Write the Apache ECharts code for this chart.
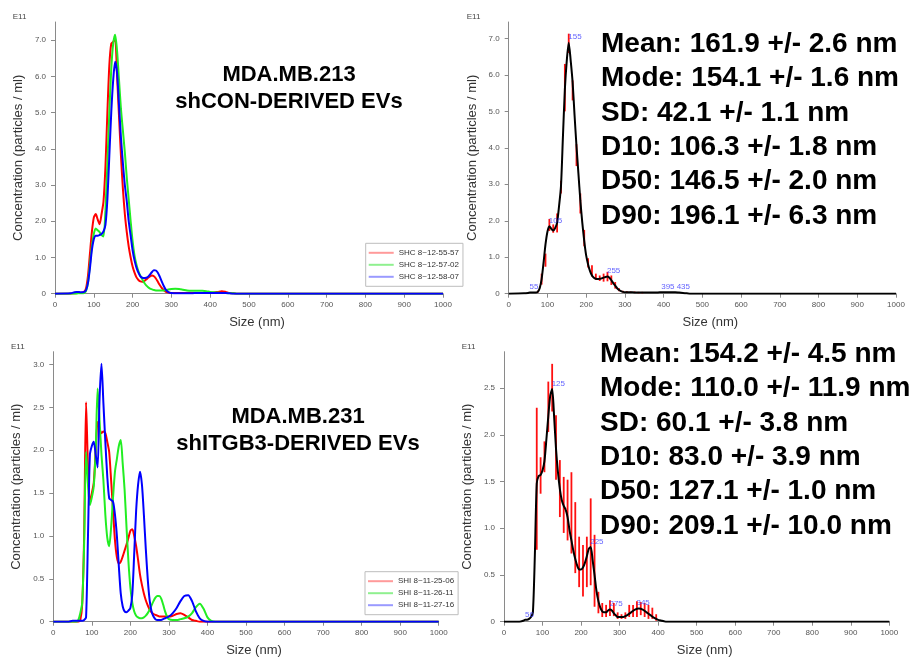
<!DOCTYPE html>
<html><head><meta charset="utf-8">
<script src="https://cdn.jsdelivr.net/npm/echarts@6/dist/echarts.min.js"></script>
<style>html,body{margin:0;padding:0;background:#fff}#c{width:914px;height:659px}</style>
</head><body><div id="c"></div>
<script>
// ---------- shared size grid (nm) ----------
const sizes = [0,40,50,
 55,60,65,70,75,80,85,90,95,100,
 105,110,115,120,125,130,135,140,145,150,
 155,160,165,170,175,180,185,190,195,200,
 205,210,215,220,225,230,235,240,245,250,
 255,260,265,270,275,280,285,290,295,300,
 310,320,330,340,350,360,370,380,390,400,410,420,430,440,450,460,470,
 1000];

// ---------- top-left: shCON replicates (E11 particles/ml) ----------
const shcNames = ['SHC 8~12-55-57','SHC 8~12-57-02','SHC 8~12-58-07'];
const shc1 = [0,0,0.01,
 0.02,0.02,0.02,0.03,0.05,0.15,0.5,1.1,1.7,2.1,
 2.2,2.05,1.92,2.2,2.55,3.5,5.0,6.3,6.9,6.95,
 7.05,6.0,4.9,3.8,2.9,2.2,1.7,1.3,1.0,0.75,
 0.58,0.45,0.38,0.34,0.33,0.35,0.39,0.44,0.48,0.5,
 0.48,0.42,0.33,0.24,0.16,0.1,0.06,0.04,0.03,0.02,
 0.02,0.02,0.02,0.02,0.02,0.02,0.02,0.02,0.02,0.02,0.03,0.05,0.07,0.05,0.02,0.01,0,
 0];
const shc2 = [0,0,0,
 0,0.01,0.01,0.01,0.02,0.08,0.3,0.8,1.3,1.65,
 1.8,1.75,1.7,1.62,1.58,2.3,3.6,5.0,6.2,6.9,
 7.15,6.7,5.9,5.1,4.5,3.9,3.2,2.6,2.0,1.45,
 1.05,0.8,0.62,0.5,0.4,0.3,0.23,0.18,0.14,0.12,
 0.1,0.09,0.09,0.09,0.09,0.09,0.1,0.11,0.12,0.13,
 0.14,0.13,0.11,0.09,0.08,0.08,0.08,0.08,0.07,0.05,0.04,0.03,0.02,0.02,0.01,0.01,0,
 0];
const shc3 = [0,0.01,0.04,
 0.05,0.05,0.04,0.04,0.05,0.1,0.3,0.7,1.2,1.5,
 1.6,1.6,1.62,1.65,1.72,1.9,2.6,3.8,5.0,5.9,
 6.4,6.1,5.2,4.3,3.6,3.0,2.55,2.0,1.6,1.2,
 0.92,0.72,0.58,0.48,0.44,0.43,0.44,0.47,0.53,0.6,
 0.65,0.64,0.58,0.47,0.34,0.22,0.12,0.06,0.03,0.02,
 0.01,0.01,0.01,0.01,0.01,0.02,0.02,0.02,0.02,0.02,0.02,0.02,0.02,0.02,0.01,0,0,
 0];

// ---------- top-right: shCON average + error ----------
const shcMean = [0,0.01,0.02,
 0.03,0.03,0.03,0.03,0.05,0.15,0.4,0.85,1.35,1.7,
 1.85,1.78,1.73,1.8,1.95,2.4,2.95,4.3,5.6,6.4,
 6.88,6.4,5.8,4.9,4.05,3.3,2.55,1.95,1.45,1.05,
 0.8,0.62,0.5,0.44,0.41,0.4,0.41,0.42,0.44,0.46,
 0.47,0.44,0.37,0.29,0.22,0.15,0.1,0.07,0.05,0.04,
 0.04,0.04,0.03,0.03,0.03,0.03,0.03,0.03,0.04,0.04,0.04,0.04,0.04,0.03,0.02,0.01,0,
 0];
const shcErrX  = [75,85,95,105,115,125,135,145,155,165,175,185,195,205,215,225,235,245,255,265,275,285,295,305,315,325,335,345];
const shcErrLo = [0.03,0.25,0.74,1.72,1.67,1.68,2.75,5.0,6.6,5.3,3.5,2.2,1.3,0.72,0.47,0.38,0.35,0.33,0.34,0.24,0.14,0.07,0.03,0.02,0.02,0.02,0.01,0.01];
const shcErrHi = [0.08,0.55,1.1,2.05,1.9,2.2,3.1,6.3,7.13,5.85,4.1,2.75,1.75,0.97,0.78,0.55,0.5,0.55,0.6,0.5,0.32,0.15,0.08,0.07,0.06,0.06,0.05,0.05];
const shcPeakX = [55,105,155,255,395,435];
const shcPeakY = [0.03,1.85,6.88,0.47,0.04,0.04];
const shcStats = ['Mean: 161.9 +/- 2.6 nm','Mode: 154.1 +/- 1.6 nm','SD: 42.1 +/- 1.1 nm','D10: 106.3 +/- 1.8 nm','D50: 146.5 +/- 2.0 nm','D90: 196.1 +/- 6.3 nm'];

// ---------- bottom-left: shITGB3 replicates ----------
const shiNames = ['SHI 8~11-25-06','SHI 8~11-26-11','SHI 8~11-27-16'];
const shi1 = [0,0,0,
 0,0,0,0.02,0.2,1.0,2.56,1.8,1.38,1.5,
 1.62,2.0,2.33,2.25,2.2,2.22,2.2,2.1,1.98,1.65,
 1.3,0.95,0.75,0.68,0.7,0.76,0.83,0.9,0.98,1.06,
 1.08,1.0,0.88,0.72,0.55,0.43,0.33,0.25,0.19,0.14,
 0.11,0.09,0.08,0.07,0.06,0.06,0.06,0.06,0.06,0.06,
 0.07,0.09,0.1,0.08,0.05,0.02,0.01,0,0,0,0,0,0,0,0,0,0,
 0];
const shi2 = [0,0,0,
 0,0,0.02,0.1,0.22,0.9,1.98,1.6,1.36,1.45,
 1.58,2.0,2.72,2.35,1.95,1.65,1.25,0.98,0.88,1.1,
 1.45,1.75,1.9,2.05,2.12,1.85,1.54,1.1,0.7,0.4,
 0.22,0.12,0.07,0.05,0.04,0.04,0.05,0.07,0.1,0.14,
 0.19,0.24,0.28,0.3,0.3,0.27,0.2,0.12,0.06,0.03,
 0.02,0.02,0.03,0.04,0.06,0.1,0.17,0.21,0.15,0.05,0.01,0,0,0,0,0,0,
 0];
const shi3 = [0,0,0.01,
 0.01,0.01,0.01,0.01,0.01,0.02,0.05,1.0,1.95,2.05,
 2.1,1.95,1.8,2.6,3.01,2.55,2.1,1.7,1.44,1.42,
 1.4,1.25,1.0,0.65,0.33,0.18,0.12,0.11,0.13,0.16,
 0.32,0.8,1.3,1.6,1.75,1.6,1.25,0.85,0.5,0.25,
 0.12,0.06,0.03,0.02,0.02,0.02,0.03,0.04,0.05,0.06,
 0.1,0.16,0.24,0.3,0.31,0.24,0.12,0.04,0.01,0,0,0,0,0,0,0,0,
 0];

// ---------- bottom-right: shITGB3 average + error ----------
const shiMean = [0,0,0.01,
 0.02,0.02,0.03,0.05,0.1,0.7,1.48,1.56,1.57,1.62,
 1.72,1.95,2.2,2.42,2.49,2.2,1.85,1.6,1.42,1.3,
 1.24,1.2,1.12,0.98,0.87,0.76,0.67,0.6,0.56,0.56,
 0.58,0.63,0.7,0.78,0.8,0.66,0.5,0.33,0.22,0.15,
 0.11,0.1,0.1,0.12,0.13,0.12,0.09,0.07,0.05,0.05,
 0.05,0.07,0.1,0.13,0.14,0.13,0.1,0.07,0.04,0.02,0.01,0,0,0,0,0,0,
 0];
const shiErrX  = [85,95,105,115,125,135,145,155,165,175,185,195,205,215,225,235,245,255,265,275,285,295,305,315,325,335,345,355,365,375,385,395];
const shiErrLo = [0.77,1.37,1.60,2.03,2.25,1.52,1.12,0.95,0.87,0.73,0.52,0.37,0.27,0.37,0.39,0.16,0.09,0.05,0.05,0.06,0.06,0.03,0.03,0.03,0.05,0.05,0.05,0.07,0.05,0.03,0.03,0.01];
const shiErrHi = [2.29,1.76,1.93,2.57,2.76,2.21,1.73,1.55,1.52,1.60,1.28,0.91,0.82,0.91,1.32,0.93,0.32,0.2,0.18,0.23,0.2,0.1,0.08,0.1,0.18,0.18,0.22,0.21,0.2,0.18,0.15,0.08];
const shiPeakX = [56,125,225,275,345];
const shiPeakY = [0.02,2.49,0.8,0.13,0.14];
const shiStats = ['Mean: 154.2 +/- 4.5 nm','Mode: 110.0 +/- 11.9 nm','SD: 60.1 +/- 3.8 nm','D10: 83.0 +/- 3.9 nm','D50: 127.1 +/- 1.0 nm','D90: 209.1 +/- 10.0 nm'];

// ---------- axis ticks / text ----------
const yTicksTop = [0,1,2,3,4,5,6,7];
const yTicksBL = [0,0.5,1,1.5,2,2.5,3];
const yTicksBR = [0,0.5,1,1.5,2,2.5];
const titleTL = ['MDA.MB.213','shCON-DERIVED EVs'];
const titleBL = ['MDA.MB.231','shITGB3-DERIVED EVs'];
const yName = 'Concentration (particles / ml)';
const xName = 'Size (nm)';
const expLabel = 'E11';

const FONT = 'Liberation Sans, Arial, Helvetica, sans-serif';
const pairs = (xs, ys) => xs.map((x, i) => [x, ys[i]]);

const gridDefs = [
  {left:55, top:22, width:388, height:271.7},
  {left:508.7, top:22, width:387.3, height:271.7},
  {left:53.3, top:351.7, width:385.4, height:270},
  {left:504, top:351.7, width:385.3, height:270}
];
const yMax = [7.5, 7.45, 3.15, 2.89];
const yTicks = [yTicksTop, yTicksTop, yTicksBL, yTicksBR];

const axisCol = '#8a8a8a';
const lblCol = '#555';

function xAx(i){
  return {gridIndex:i, type:'value', min:0, max:1000, interval:100,
    axisLine:{lineStyle:{color:axisCol, width:1}},
    axisTick:{length:4, lineStyle:{color:axisCol}},
    splitLine:{show:false},
    axisLabel:{fontSize:8, color:lblCol, margin:7, fontFamily:FONT, formatter: v => String(v)},
    name:xName, nameLocation:'middle', nameGap:22,
    nameTextStyle:{fontSize:13, color:'#333', fontFamily:FONT, padding:[0,0,0,16]}};
}
function yAx(i){
  return {gridIndex:i, type:'value', min:0, max:yMax[i],
    axisLine:{show:true, lineStyle:{color:axisCol, width:1}},
    axisTick:{show:true, length:4, lineStyle:{color:axisCol}, customValues:yTicks[i]},
    splitLine:{show:false},
    axisLabel:{fontSize:8, color:lblCol, margin:9, fontFamily:FONT, customValues:yTicks[i],
      formatter: v => v === 0 ? '0' : Number(v).toFixed(1)},
    name:yName, nameLocation:'middle', nameGap:30, nameRotate:90,
    nameTextStyle:{fontSize:13, color:'#333', fontFamily:FONT}};
}

function lineS(name, ys, color, gi, w){
  return {name, type:'line', xAxisIndex:gi, yAxisIndex:gi, data:pairs(sizes, ys),
    symbol:'none', smooth:0.25, lineStyle:{color, width:w}, itemStyle:{color}, z:3,
    emphasis:{disabled:true}};
}
function errS(gi, xs, lo, hi){
  return {type:'custom', xAxisIndex:gi, yAxisIndex:gi, z:2,
    data: xs.map((x,i)=>[x, lo[i], hi[i]]),
    encode:{x:0, y:[1,2]},
    renderItem:(params, api)=>{
      const p1 = api.coord([api.value(0), api.value(1)]);
      const p2 = api.coord([api.value(0), api.value(2)]);
      return {type:'line', shape:{x1:p1[0], y1:p1[1], x2:p2[0], y2:p2[1]},
        style:{stroke:'#ff1010', lineWidth:1.8}};
    }};
}
function peakS(gi, xs, ys){
  return {type:'scatter', xAxisIndex:gi, yAxisIndex:gi, z:5, symbolSize:1,
    itemStyle:{color:'transparent'}, data:pairs(xs, ys),
    label:{show:true, position:[0,-5], align:'left', verticalAlign:'middle',
      formatter: p => String(p.value[0]), fontSize:8, color:'#3a3aff', fontFamily:FONT}};
}

const graphics = [];
[[12.7,17],[466.7,17],[11,347],[461.7,347]].forEach(p=>{
  graphics.push({type:'text', x:p[0], y:p[1], style:{text:expLabel, font:'8px '+FONT, fill:'#444',
    align:'left', verticalAlign:'middle', textAlign:'left', textVerticalAlign:'middle'}});
});
titleTL.forEach((t,i)=>graphics.push({type:'text', x:289, y:75+i*27,
  style:{text:t, font:'bold 22px '+FONT, fill:'#000', align:'center', verticalAlign:'middle', textAlign:'center', textVerticalAlign:'middle'}}));
titleBL.forEach((t,i)=>graphics.push({type:'text', x:298, y:417+i*27,
  style:{text:t, font:'bold 22px '+FONT, fill:'#000', align:'center', verticalAlign:'middle', textAlign:'center', textVerticalAlign:'middle'}}));
shcStats.forEach((t,i)=>graphics.push({type:'text', x:601, y:44+i*34.4, z:10,
  style:{text:t, font:'bold 28px '+FONT, fill:'#000', align:'left', verticalAlign:'middle', textAlign:'left', textVerticalAlign:'middle'}}));
shiStats.forEach((t,i)=>graphics.push({type:'text', x:600, y:354+i*34.4, z:10,
  style:{text:t, font:'bold 28px '+FONT, fill:'#000', align:'left', verticalAlign:'middle', textAlign:'left', textVerticalAlign:'middle'}}));

const paleCols = ['#ff9a9a','#8ff08f','#9a9aff'];
function legendDef(names, left, top){
  return {orient:'vertical', left, top, selectedMode:false,
    backgroundColor:'#fff', borderColor:'#bdbdbd', borderWidth:1, borderRadius:0,
    padding:[5,4,5,3], itemGap:3, itemWidth:25, itemHeight:2, icon:'rect',
    textStyle:{fontSize:8, color:'#333', fontFamily:FONT, lineHeight:9},
    data: names.map((n,i)=>({name:n, itemStyle:{color:paleCols[i]}}))};
}

const chart = echarts.init(document.getElementById('c'), null, {renderer:'canvas'});
chart.setOption({
  animation:false,
  backgroundColor:'#fff',
  textStyle:{fontFamily:FONT},
  grid: gridDefs,
  xAxis: [0,1,2,3].map(xAx),
  yAxis: [0,1,2,3].map(yAx),
  legend: [legendDef(shcNames, 365.7, 243.3), legendDef(shiNames, 365, 571.7)],
  graphic: graphics,
  series: [
    lineS(shcNames[0], shc1, '#ff0000', 0, 2),
    lineS(shcNames[1], shc2, '#22ee22', 0, 2),
    lineS(shcNames[2], shc3, '#0000ff', 0, 2),
    errS(1, shcErrX, shcErrLo, shcErrHi),
    lineS('shCON mean', shcMean, '#000', 1, 2),
    peakS(1, shcPeakX, shcPeakY),
    lineS(shiNames[0], shi1, '#ff0000', 2, 2),
    lineS(shiNames[1], shi2, '#22ee22', 2, 2),
    lineS(shiNames[2], shi3, '#0000ff', 2, 2),
    errS(3, shiErrX, shiErrLo, shiErrHi),
    lineS('shITGB3 mean', shiMean, '#000', 3, 2),
    peakS(3, shiPeakX, shiPeakY)
  ]
});
</script>
</body></html>
